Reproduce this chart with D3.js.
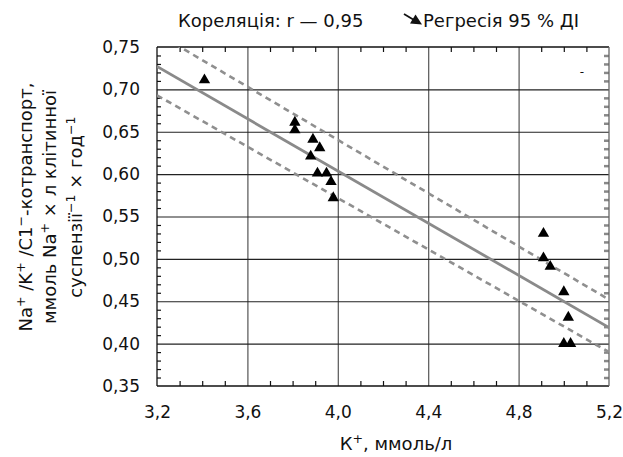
<!DOCTYPE html>
<html>
<head>
<meta charset="utf-8">
<script src="https://cdn.jsdelivr.net/npm/d3@7"></script>
<style>
  html, body { margin: 0; padding: 0; background: #fff; }
  svg { display: block; font-family: "DejaVu Sans", sans-serif; }
</style>
</head>
<body>
<svg id="chart" width="623" height="457"></svg>
<script>
// Potassium concentration (x) vs Na+/K+/Cl- cotransport (y)
const potassium = [3.41, 3.81, 3.81, 3.89, 3.92, 3.88, 3.91, 3.95, 3.97, 3.98,
                   4.91, 4.91, 4.94, 5.00, 5.02, 5.00, 5.03];
const cotransport = [0.711, 0.661, 0.652, 0.641, 0.631, 0.621, 0.601, 0.601, 0.591, 0.572,
                     0.530, 0.501, 0.491, 0.461, 0.431, 0.400, 0.400];

// Regression line and its 95 % confidence band (end points)
const regressionX = [3.2, 5.2];
const regressionY = [0.727, 0.419];
const upperX = [3.2, 5.2];
const upperY = [0.766, 0.452];
const lowerX = [3.2, 5.2];
const lowerY = [0.693, 0.390];

// Axis ticks
const xTickValues = [3.2, 3.6, 4.0, 4.4, 4.8, 5.2];
const xTickLabels = ["3,2", "3,6", "4,0", "4,4", "4,8", "5,2"];
const yTickValues = [0.35, 0.40, 0.45, 0.50, 0.55, 0.60, 0.65, 0.70, 0.75];
const yTickLabels = ["0,35", "0,40", "0,45", "0,50", "0,55", "0,60", "0,65", "0,70", "0,75"];

const svg = d3.select("#chart");
const margin = { left: 157, right: 14, top: 47, bottom: 71 };
const W = 623 - margin.left - margin.right;
const H = 457 - margin.top - margin.bottom;

const x = d3.scaleLinear().domain([3.2, 5.2]).range([0, W]);
const y = d3.scaleLinear().domain([0.35, 0.75]).range([H, 0]);

const g = svg.append("g").attr("transform", `translate(${margin.left},${margin.top})`);

g.append("clipPath").attr("id", "plot-clip")
  .append("rect").attr("width", W).attr("height", H);

// minor tick positions
const xMinor = d3.range(33, 52).map(v => v / 10).filter(v => Math.round(v * 10) % 4 !== 0);
const yMinor = d3.range(36, 75).map(v => v / 100).filter(v => Math.round(v * 100) % 5 !== 0);

// grid lines
g.append("g").attr("class", "vgrid")
  .attr("transform", `translate(0,${H})`)
  .call(d3.axisBottom(x).tickValues([3.6, 4.0, 4.4, 4.8]).tickSize(-H).tickFormat(""))
  .call(a => a.select(".domain").remove())
  .call(a => a.selectAll("line").attr("stroke", "#555").attr("stroke-width", 1.2));
g.append("g").attr("class", "hgrid")
  .call(d3.axisLeft(y).tickValues([0.40, 0.45, 0.50, 0.55, 0.60, 0.65, 0.70]).tickSize(-W).tickFormat(""))
  .call(a => a.select(".domain").remove())
  .call(a => a.selectAll("line").attr("stroke", "#222").attr("stroke-width", 1.2));

// inward minor ticks on all four sides
g.append("g")
  .call(d3.axisLeft(y).tickValues(yMinor).tickSize(-4).tickFormat(""))
  .call(a => a.select(".domain").remove())
  .call(a => a.selectAll("line").attr("stroke", "#111").attr("stroke-width", 1.2));
g.append("g").attr("transform", `translate(${W},0)`)
  .call(d3.axisRight(y).tickValues(yMinor).tickSize(-5).tickFormat(""))
  .call(a => a.select(".domain").remove())
  .call(a => a.selectAll("line").attr("stroke", "#888").attr("stroke-width", 2.5));
g.append("g")
  .call(d3.axisTop(x).tickValues(xMinor).tickSize(-5).tickFormat(""))
  .call(a => a.select(".domain").remove())
  .call(a => a.selectAll("line").attr("stroke", "#111").attr("stroke-width", 1.2));
g.append("g").attr("transform", `translate(0,${H})`)
  .call(d3.axisBottom(x).tickValues(xMinor).tickSize(-5).tickFormat(""))
  .call(a => a.select(".domain").remove())
  .call(a => a.selectAll("line").attr("stroke", "#111").attr("stroke-width", 1.2));

// frame
g.append("line").attr("x1", 0).attr("x2", W).attr("y1", 0).attr("y2", 0).attr("stroke", "#111").attr("stroke-width", 1.3);
g.append("line").attr("x1", 0).attr("x2", W).attr("y1", H).attr("y2", H).attr("stroke", "#111").attr("stroke-width", 1.3);
g.append("line").attr("x1", 0).attr("x2", 0).attr("y1", 0).attr("y2", H).attr("stroke", "#111").attr("stroke-width", 1.3);
g.append("line").attr("x1", W).attr("x2", W).attr("y1", 0).attr("y2", H).attr("stroke", "#666").attr("stroke-width", 1.3);

// tick labels
g.append("g").attr("transform", `translate(0,${H})`)
  .call(d3.axisBottom(x).tickValues(xTickValues).tickSize(0).tickPadding(20)
    .tickFormat((d, i) => xTickLabels[i]))
  .call(a => a.select(".domain").remove())
  .call(a => a.selectAll("text").attr("font-family", "DejaVu Sans").attr("font-size", 17).attr("fill", "#111"));
g.append("g")
  .call(d3.axisLeft(y).tickValues(yTickValues).tickSize(0).tickPadding(17)
    .tickFormat((d, i) => yTickLabels[i]))
  .call(a => a.select(".domain").remove())
  .call(a => a.selectAll("text").attr("font-family", "DejaVu Sans").attr("font-size", 17).attr("fill", "#111"));

// regression and confidence band
const line = d3.line().x(d => x(d[0])).y(d => y(d[1]));
const plotLines = g.append("g").attr("clip-path", "url(#plot-clip)");
plotLines.append("path")
  .attr("d", line(d3.zip(upperX, upperY)))
  .attr("fill", "none").attr("stroke", "#8f8f8f").attr("stroke-width", 2.6).attr("stroke-dasharray", "6,4.5");
plotLines.append("path")
  .attr("d", line(d3.zip(lowerX, lowerY)))
  .attr("fill", "none").attr("stroke", "#8f8f8f").attr("stroke-width", 2.6).attr("stroke-dasharray", "6,4.5");
plotLines.append("path")
  .attr("d", line(d3.zip(regressionX, regressionY)))
  .attr("fill", "none").attr("stroke", "#8a8a8a").attr("stroke-width", 2.8);

// data points
g.append("g").selectAll("path")
  .data(d3.zip(potassium, cotransport))
  .join("path")
  .attr("transform", d => `translate(${x(d[0])},${y(d[1])})`)
  .attr("d", d3.symbol(d3.symbolTriangle, 56))
  .attr("fill", "#000");

// stray minus mark inside the plot
g.append("text").attr("x", x(5.08)).attr("y", y(0.7155))
  .attr("text-anchor", "middle").attr("font-size", 12).attr("fill", "#111").text("-");

// text with superscripts: raised parts shift up, the following part shifts back
function richText(sel, parts, size) {
  let raised = false;
  parts.forEach(p => {
    const span = sel.append("tspan").text(p.t);
    if (p.sup) {
      span.attr("font-size", size * 0.7).attr("dy", raised ? 0 : -size * 0.4);
      raised = true;
    } else if (raised) {
      span.attr("dy", size * 0.4);
      raised = false;
    }
  });
}

// x axis title
const xt = svg.append("text").attr("x", 396).attr("y", 450)
  .attr("text-anchor", "middle").attr("font-size", 18).attr("fill", "#111");
richText(xt, [{ t: "К" }, { t: "+", sup: true }, { t: ", ммоль/л" }], 18);

// y axis title (three rotated lines)
const yLines = [
  [{ t: "Na" }, { t: "+", sup: true }, { t: " /K" }, { t: "+", sup: true }, { t: " /C1" }, { t: "−", sup: true }, { t: "-котранспорт," }],
  [{ t: "ммоль Na" }, { t: "+", sup: true }, { t: " × л клітинної" }],
  [{ t: "суспензії" }, { t: "−1", sup: true }, { t: " × год" }, { t: "−1", sup: true }]
];
const yLineX = [32, 56, 82];
yLines.forEach((parts, i) => {
  const t = svg.append("text")
    .attr("transform", `translate(${yLineX[i]},207) rotate(-90)`)
    .attr("text-anchor", "middle").attr("font-size", 18).attr("fill", "#111");
  richText(t, parts, 18);
});

// legend
svg.append("text").attr("x", 178).attr("y", 27).attr("font-size", 18).attr("fill", "#111")
  .text("Кореляція: r — 0,95");
const legendArrow = svg.append("g").attr("transform", "translate(404,14)");
legendArrow.append("line").attr("x1", 0).attr("y1", 0).attr("x2", 10).attr("y2", 6)
  .attr("stroke", "#111").attr("stroke-width", 1.8);
legendArrow.append("path").attr("d", "M18,10.5 L6,9.5 L11.5,0.5 Z").attr("fill", "#111");
svg.append("text").attr("x", 423).attr("y", 27).attr("font-size", 18).attr("fill", "#111")
  .text("Регресія 95 % ДІ");
</script>
</body>
</html>
